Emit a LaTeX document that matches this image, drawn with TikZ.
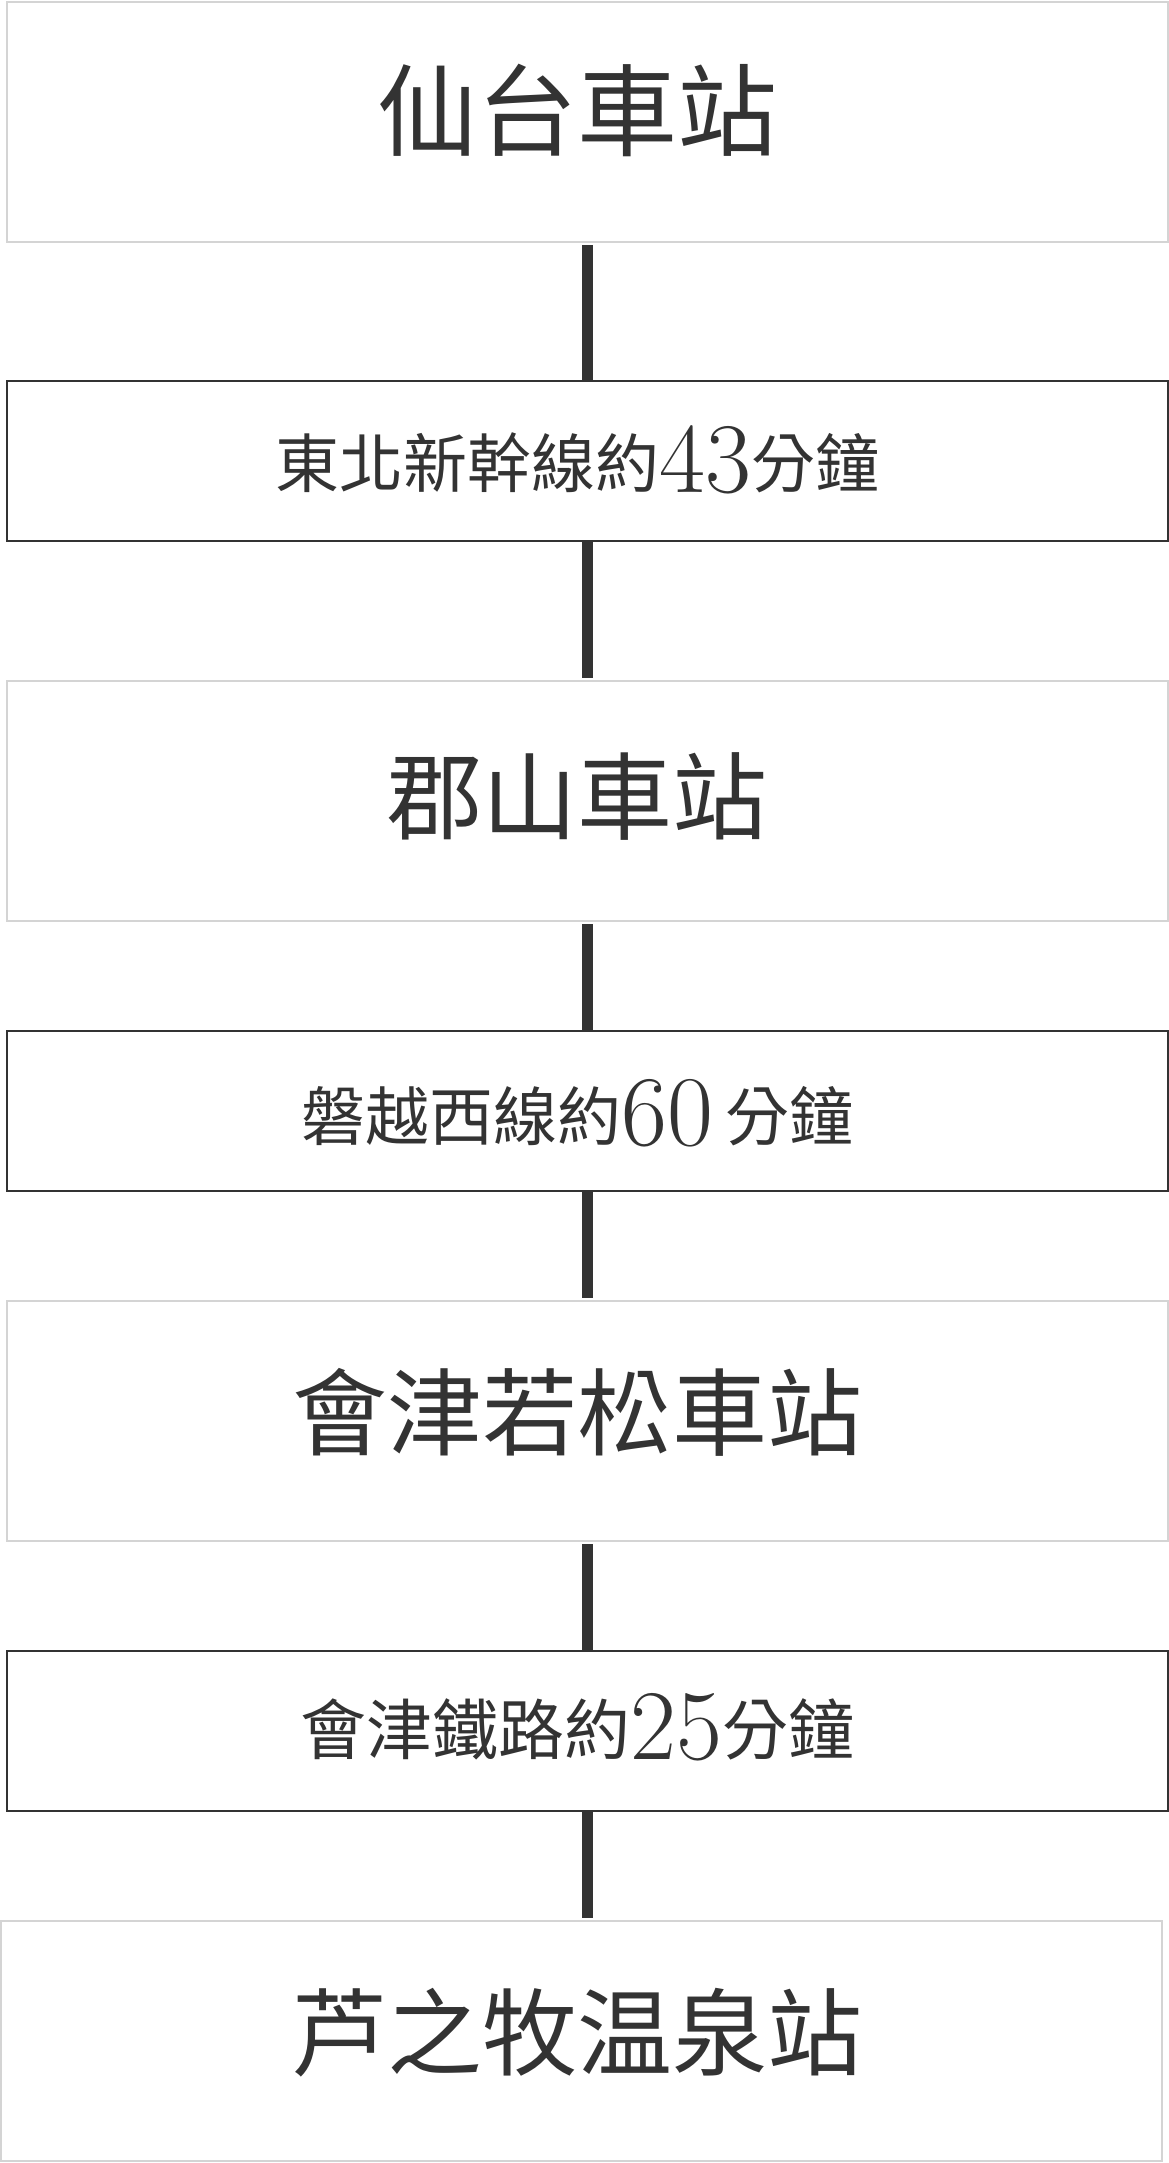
\documentclass[tikz,border=0pt]{standalone}
\usepackage{fontspec}
\newfontfamily\cjk{Noto Sans CJK TC}
\definecolor{ink}{HTML}{333333}
\definecolor{frame}{HTML}{D4D4D4}
\newcommand{\numtxt}[1]{\raisebox{-5pt}{\rmfamily\fontsize{100pt}{100pt}\selectfont #1}}
\tikzset{
  station/.style={rectangle, draw=frame, line width=2pt, minimum width=1161pt, minimum height=240pt, inner sep=0pt},
  route/.style={rectangle, draw=ink, line width=1.5pt, minimum width=1161pt, minimum height=160pt, inner sep=0pt},
  bigtxt/.style={anchor=base, text=ink, inner sep=0pt, font=\cjk\fontsize{95pt}{95pt}\selectfont},
  smalltxt/.style={anchor=base, text=ink, inner sep=0pt, font=\cjk\fontsize{64pt}{64pt}\selectfont},
  link/.style={draw=ink, line width=11pt},
}
\begin{document}
\begin{tikzpicture}[x=1pt, y=-1pt]
\useasboundingbox (0,0) rectangle (1169,2163);
% boxes
\node[station] (b1) at (587.5,122) {};
\node[route]   (b2) at (587.5,461) {};
\node[station] (b3) at (587.5,801) {};
\node[route]   (b4) at (587.5,1111) {};
\node[station] (b5) at (587.5,1421) {};
\node[route]   (b6) at (587.5,1731) {};
\node[station] (b7) at (581.5,2040.5) {};
% texts
\node[bigtxt, font=\cjk\fontsize{100pt}{100pt}\selectfont] (t1) at ([xshift=-10pt,yshift=-26pt]b1.center) {仙台車站};
\node[smalltxt] (t2) at ([xshift=-10pt,yshift=-26pt]b2.center) {東北新幹線約\numtxt{43}分鐘};
\node[bigtxt] (t3) at ([xshift=-10pt,yshift=-31pt]b3.center) {郡山車站};
\node[smalltxt] (t4) at ([xshift=-10pt,yshift=-29pt]b4.center) {磐越西線約\numtxt{60}\hspace{12pt}分鐘};
\node[bigtxt] (t5) at ([xshift=-10pt,yshift=-27pt]b5.center) {會津若松車站};
\node[smalltxt, font=\cjk\fontsize{66pt}{66pt}\selectfont] (t6) at ([xshift=-10pt,yshift=-23pt]b6.center) {會津鐵路約\numtxt{25}分鐘};
\node[bigtxt] (t7) at ([xshift=-4pt,yshift=-28pt]b7.center) {芦之牧温泉站};
% connectors
\draw[link, shorten <=2pt] ([xshift=-0.5pt]b1.south) -- ([xshift=-0.5pt]b2.north);
\draw[link, shorten >=2pt] ([xshift=-0.5pt]b2.south) -- ([xshift=-0.5pt]b3.north);
\draw[link, shorten <=2pt] ([xshift=-0.5pt]b3.south) -- ([xshift=-0.5pt]b4.north);
\draw[link, shorten >=2pt] ([xshift=-0.5pt]b4.south) -- ([xshift=-0.5pt]b5.north);
\draw[link, shorten <=2pt] ([xshift=-0.5pt]b5.south) -- ([xshift=-0.5pt]b6.north);
\draw[link, shorten >=2pt] ([xshift=-0.5pt]b6.south) -- ([xshift=-0.5pt]b6.south |- b7.north);
\end{tikzpicture}
\end{document}
